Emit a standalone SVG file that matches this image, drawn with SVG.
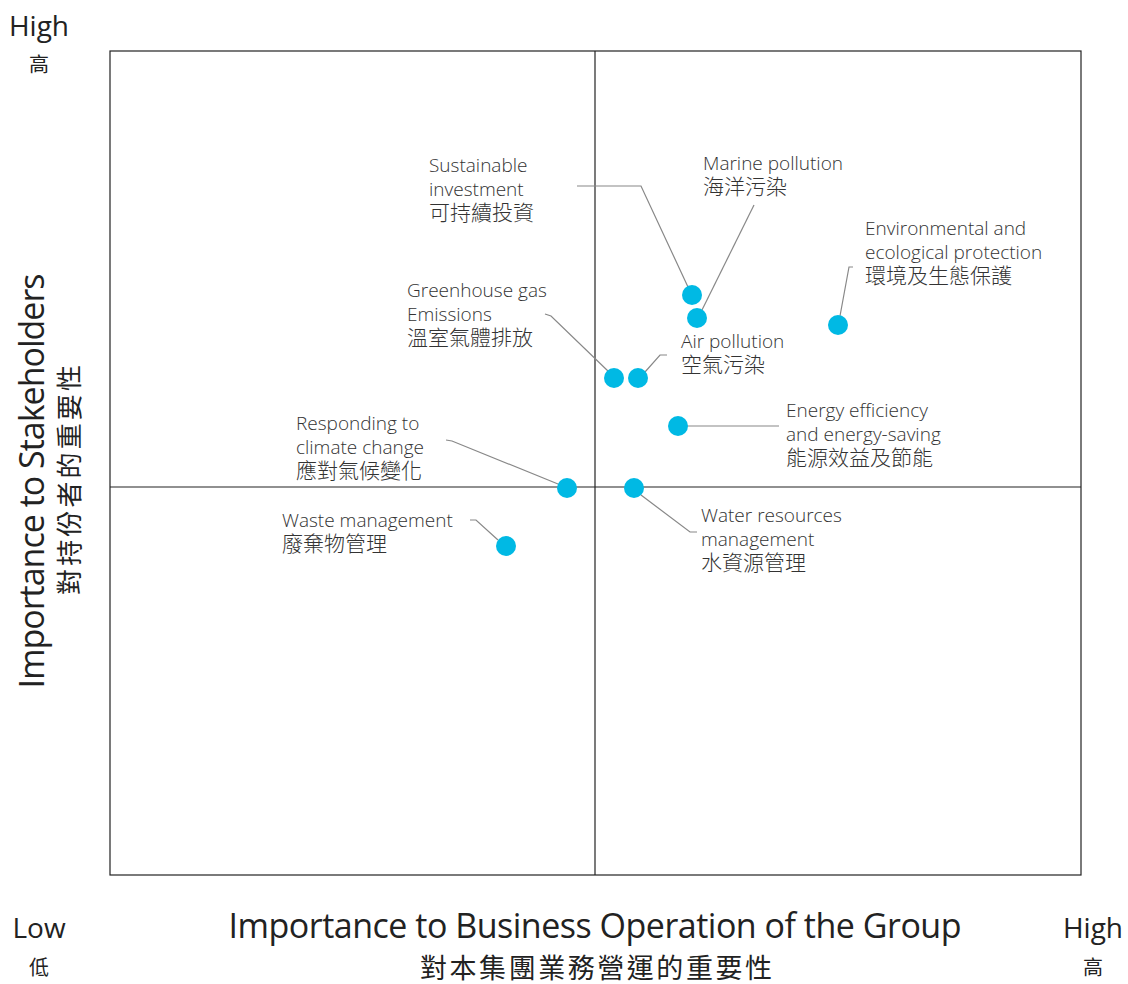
<svg xmlns="http://www.w3.org/2000/svg" width="1128" height="984" viewBox="0 0 1128 984">
<style>
.lbl{font-family:"Open Sans","Noto Sans","Noto Sans CJK TC",sans-serif;font-size:19px;fill:#333;font-weight:300}
.cjk{font-family:"Noto Sans CJK TC","Noto Sans",sans-serif;font-size:21px;fill:#333;font-weight:300}
.ax{font-family:"Open Sans","Noto Sans","Noto Sans CJK TC",sans-serif;fill:#222}
.axc{font-family:"Noto Sans CJK TC",sans-serif;fill:#222}
.dot{fill:#00b9e4}
.lead{fill:none;stroke:#888;stroke-width:1.2}
</style>
<rect width="1128" height="984" fill="#fff"/>
<g id="frame" fill="none" stroke="#222" stroke-width="1.2">
<rect x="110" y="51" width="971" height="824"/>
<line x1="595" y1="51" x2="595" y2="875"/>
<line x1="110" y1="487" x2="1081" y2="487"/>
</g>
<g id="connectors">
<polyline class="lead" points="577,186 641,186 688,287"/>
<polyline class="lead" points="754,205 702,310"/>
<polyline class="lead" points="853,267 849,267 840,316"/>
<polyline class="lead" points="545,314 551,316 609,372"/>
<polyline class="lead" points="667,355 660,355 645,372"/>
<polyline class="lead" points="686,426 779,426"/>
<polyline class="lead" points="446,440 452,441 558,484"/>
<polyline class="lead" points="641,495 690,532 697,532"/>
<polyline class="lead" points="470,520 476,520 498,540"/>
</g>
<g id="sustainable-investment"><circle class="dot" cx="692" cy="295" r="10"/>
<text class="lbl" x="429" y="172">Sustainable</text><text class="lbl" x="429" y="196">investment</text><text class="cjk" x="429" y="220">可持續投資</text></g>
<g id="marine-pollution"><circle class="dot" cx="697" cy="318" r="10"/>
<text class="lbl" x="703" y="170">Marine pollution</text><text class="cjk" x="703" y="194">海洋污染</text></g>
<g id="environmental"><circle class="dot" cx="838" cy="325" r="10"/>
<text class="lbl" x="865" y="235">Environmental and</text><text class="lbl" x="865" y="259">ecological protection</text><text class="cjk" x="865" y="283">環境及生態保護</text></g>
<g id="ghg"><circle class="dot" cx="614" cy="378" r="10"/>
<text class="lbl" x="407" y="297">Greenhouse gas</text><text class="lbl" x="407" y="321">Emissions</text><text class="cjk" x="407" y="345">溫室氣體排放</text></g>
<g id="air-pollution"><circle class="dot" cx="638" cy="378" r="10"/>
<text class="lbl" x="681" y="348">Air pollution</text><text class="cjk" x="681" y="372">空氣污染</text></g>
<g id="energy"><circle class="dot" cx="678" cy="426" r="10"/>
<text class="lbl" x="786" y="417">Energy efficiency</text><text class="lbl" x="786" y="441">and energy-saving</text><text class="cjk" x="786" y="465">能源效益及節能</text></g>
<g id="climate"><circle class="dot" cx="567" cy="488" r="10"/>
<text class="lbl" x="296" y="430">Responding to</text><text class="lbl" x="296" y="454">climate change</text><text class="cjk" x="296" y="478">應對氣候變化</text></g>
<g id="water"><circle class="dot" cx="634" cy="488" r="10"/>
<text class="lbl" x="701" y="522">Water resources</text><text class="lbl" x="701" y="546">management</text><text class="cjk" x="701" y="570">水資源管理</text></g>
<g id="waste"><circle class="dot" cx="506" cy="546" r="10"/>
<text class="lbl" x="282" y="527">Waste management</text><text class="cjk" x="282" y="551">廢棄物管理</text></g>
<g id="axis-labels">
<text class="ax" x="39" y="36" font-size="28" text-anchor="middle">High</text>
<text class="axc" x="39" y="72" font-size="20" text-anchor="middle">高</text>
<text class="ax" x="39" y="938" font-size="28" text-anchor="middle">Low</text>
<text class="axc" x="39" y="975" font-size="20" text-anchor="middle">低</text>
<text class="ax" x="1093" y="938" font-size="28" text-anchor="middle">High</text>
<text class="axc" x="1093" y="975" font-size="20" text-anchor="middle">高</text>
<text class="ax" x="595" y="938" font-size="34" text-anchor="middle" textLength="733">Importance to Business Operation of the Group</text>
<text class="axc" x="596" y="978" font-size="27" text-anchor="middle" textLength="352">對本集團業務營運的重要性</text>
<text class="ax" transform="translate(44,481) rotate(-90)" font-size="34" text-anchor="middle" textLength="415">Importance to Stakeholders</text>
<text class="axc" transform="translate(79,480) rotate(-90)" font-size="26" text-anchor="middle" textLength="230">對持份者的重要性</text>
</g>
</svg>
